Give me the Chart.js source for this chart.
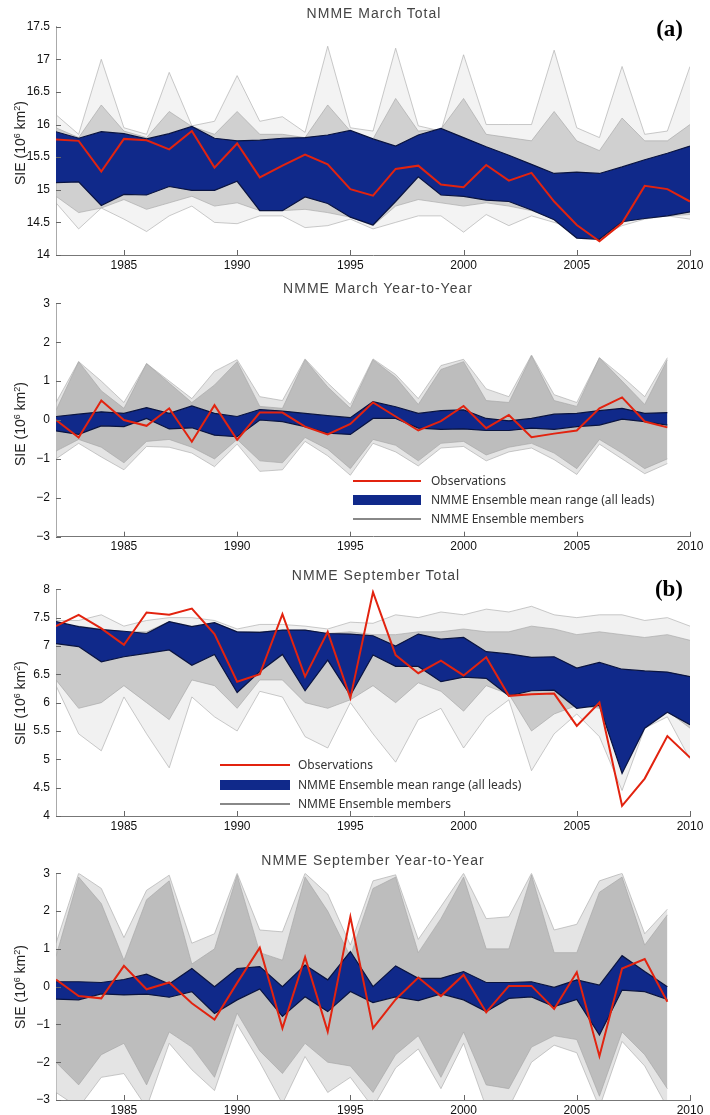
<!DOCTYPE html>
<html>
<head>
<meta charset="utf-8">
<script src="https://cdn.jsdelivr.net/npm/chart.js@4.4.1/dist/chart.umd.min.js"></script>
<style>
  body { margin: 0; background: #fff; }
  #wrap { position: relative; width: 710px; height: 1115px; overflow: hidden; background: #fff; }
  #wrap canvas { position: absolute; left: 0; }
  .title { position: absolute; font-family: "Liberation Sans", Arial, sans-serif; font-size: 14px; line-height: 16px;
           letter-spacing: 1px; color: #444; white-space: nowrap; transform: translateX(-50%); }
  .tag { position: absolute; font-family: "Liberation Serif", "Times New Roman", serif; font-weight: bold;
         font-size: 23px; line-height: 24px; color: #000; }
  .ytitle { position: absolute; font-family: "Liberation Sans", Arial, sans-serif; font-size: 14px; line-height: 16px;
            color: #222; white-space: nowrap; transform: translate(-50%, -50%) rotate(-90deg); }
  .ytitle sup { font-size: 9px; vertical-align: 5px; line-height: 0; }
  .leg { position: absolute; font-family: "Noto Sans", "Open Sans", sans-serif; font-size: 12px; line-height: 16px;
         color: #333; white-space: nowrap; }
  .sw { position: absolute; }
</style>
</head>
<body>
<div id="wrap">
  <canvas id="c1" width="710" height="280" style="top:0px"></canvas>
  <canvas id="c2" width="710" height="282" style="top:280px"></canvas>
  <canvas id="c3" width="710" height="280" style="top:562px"></canvas>
  <canvas id="c4" width="710" height="270" style="top:845px"></canvas>

  <div class="title" style="left:374px; top:5px">NMME March Total</div>
  <div class="title" style="left:378px; top:280px">NMME March Year-to-Year</div>
  <div class="title" style="left:376px; top:567px">NMME September Total</div>
  <div class="title" style="left:373px; top:852px">NMME September Year-to-Year</div>

  <div class="tag" style="right:27px; top:17px">(a)</div>
  <div class="tag" style="right:27px; top:577px">(b)</div>

  <div class="ytitle" style="left:20px; top:143px">SIE (10<sup>6</sup> km<sup>2</sup>)</div>
  <div class="ytitle" style="left:20px; top:424px">SIE (10<sup>6</sup> km<sup>2</sup>)</div>
  <div class="ytitle" style="left:20px; top:703px">SIE (10<sup>6</sup> km<sup>2</sup>)</div>
  <div class="ytitle" style="left:20px; top:987px">SIE (10<sup>6</sup> km<sup>2</sup>)</div>

  <!-- legend in panel 2 -->
  <div class="sw" style="left:353px; top:480px; width:68px; height:2px; background:#e2230f"></div>
  <div class="leg" style="left:431px; top:473px">Observations</div>
  <div class="sw" style="left:353px; top:495px; width:68px; height:10px; background:#10298a"></div>
  <div class="leg" style="left:431px; top:492px">NMME Ensemble mean range (all leads)</div>
  <div class="sw" style="left:353px; top:518px; width:68px; height:1.5px; background:#888"></div>
  <div class="leg" style="left:431px; top:511px">NMME Ensemble members</div>

  <!-- legend in panel 3 -->
  <div class="sw" style="left:220px; top:764px; width:70px; height:2px; background:#e2230f"></div>
  <div class="leg" style="left:298px; top:757px">Observations</div>
  <div class="sw" style="left:220px; top:780px; width:70px; height:10px; background:#10298a"></div>
  <div class="leg" style="left:298px; top:777px">NMME Ensemble mean range (all leads)</div>
  <div class="sw" style="left:220px; top:803px; width:70px; height:1.5px; background:#888"></div>
  <div class="leg" style="left:298px; top:796px">NMME Ensemble members</div>
</div>

<script>
// ---------------- categories / ticks ----------------
const yearsTotal = [1982,1983,1984,1985,1986,1987,1988,1989,1990,1991,1992,1993,1994,1995,1996,1997,1998,1999,2000,2001,2002,2003,2004,2005,2006,2007,2008,2009,2010];
const yearsYtY   = [1982,1983,1984,1985,1986,1987,1988,1989,1990,1991,1992,1993,1994,1995,1996,1997,1998,1999,2000,2001,2002,2003,2004,2005,2006,2007,2008,2009];
const xTicks = [1985,1990,1995,2000,2005,2010];
const marTotYTicks = [14,14.5,15,15.5,16,16.5,17,17.5];
const sepTotYTicks = [4,4.5,5,5.5,6,6.5,7,7.5,8];
const ytyYTicks = [-3,-2,-1,0,1,2,3];

// ---------------- (a) March total ----------------
const marTotObs    = [15.77,15.75,15.28,15.78,15.76,15.62,15.90,15.34,15.71,15.19,15.37,15.54,15.39,15.01,14.91,15.32,15.37,15.08,15.04,15.38,15.14,15.26,14.82,14.46,14.21,14.49,15.06,15.01,14.82];
const marTotBandHi = [15.89,15.79,15.89,15.86,15.78,15.86,15.97,15.79,15.75,15.76,15.79,15.80,15.84,15.91,15.78,15.67,15.84,15.94,15.80,15.66,15.53,15.39,15.25,15.27,15.25,15.35,15.46,15.56,15.67];
const marTotBandLo = [15.11,15.12,14.76,14.93,14.92,15.05,14.99,14.99,15.13,14.68,14.68,14.89,14.79,14.58,14.46,14.82,15.20,14.92,14.90,14.84,14.82,14.69,14.54,14.26,14.24,14.51,14.56,14.60,14.66];
const marTotEnsHi    = [16.15,15.85,17.00,15.95,15.85,16.80,15.98,16.05,16.75,16.05,16.12,15.88,17.20,15.95,15.90,17.17,15.98,15.90,17.07,16.00,16.00,16.00,17.14,15.95,15.80,16.89,15.85,15.90,16.89];
const marTotEnsMidHi = [15.95,15.80,16.30,15.90,15.80,16.20,15.97,15.85,16.20,15.85,15.85,15.80,16.30,15.90,15.78,16.40,15.90,15.93,16.40,15.85,15.80,15.75,16.20,15.75,15.60,16.10,15.75,15.75,16.00];
const marTotEnsMidLo = [14.90,14.65,14.72,14.85,14.70,14.80,14.90,14.75,14.80,14.68,14.68,14.70,14.65,14.58,14.45,14.75,14.85,14.80,14.75,14.80,14.75,14.68,14.55,14.30,14.28,14.50,14.58,14.60,14.62];
const marTotEnsLo    = [14.80,14.40,14.72,14.55,14.36,14.60,14.75,14.50,14.48,14.60,14.60,14.42,14.45,14.55,14.40,14.50,14.60,14.60,14.35,14.62,14.45,14.60,14.50,14.40,14.28,14.45,14.55,14.60,14.55];

// ---------------- (a) March year-to-year ----------------
const marYtyObs    = [0.00,-0.45,0.50,0.00,-0.15,0.30,-0.56,0.38,-0.51,0.19,0.19,-0.17,-0.37,-0.10,0.45,0.09,-0.27,-0.03,0.36,-0.21,0.13,-0.44,-0.35,-0.27,0.30,0.58,-0.04,-0.19];
const marYtyBandHi = [0.09,0.15,0.21,0.17,0.32,0.17,0.36,0.17,0.09,0.27,0.23,0.17,0.11,0.06,0.47,0.34,0.17,0.24,0.26,0.04,-0.02,0.04,0.15,0.17,0.24,0.30,0.17,0.19];
const marYtyBandLo = [-0.28,-0.37,-0.15,-0.17,0.04,-0.23,-0.20,-0.39,-0.43,0.00,-0.04,-0.17,-0.34,-0.37,0.04,0.04,-0.21,-0.24,-0.23,-0.27,-0.27,-0.21,-0.24,-0.17,-0.13,0.02,-0.04,-0.13];
const marYtyEnsHi    = [0.45,1.50,1.00,0.45,1.45,1.00,0.55,1.25,1.55,0.60,0.50,1.57,0.95,0.40,1.57,1.17,0.55,1.40,1.56,0.80,0.60,1.67,0.65,0.45,1.60,1.12,0.60,1.60];
const marYtyEnsMidHi = [0.25,1.50,0.75,0.30,1.45,0.95,0.45,0.90,1.50,0.35,0.30,1.55,0.85,0.30,1.55,1.10,0.40,1.30,1.50,0.50,0.45,1.65,0.50,0.35,1.60,1.00,0.40,1.55];
const marYtyEnsMidLo = [-0.80,-0.50,-0.70,-1.10,-0.55,-0.50,-0.70,-1.00,-0.50,-1.05,-1.10,-0.45,-0.75,-1.25,-0.50,-0.65,-1.05,-0.60,-0.55,-0.90,-0.70,-0.60,-0.85,-1.25,-0.50,-0.85,-1.25,-1.00];
const marYtyEnsLo    = [-1.00,-0.60,-0.95,-1.28,-0.68,-0.70,-0.85,-1.20,-0.62,-1.32,-1.28,-0.55,-0.92,-1.42,-0.60,-0.82,-1.18,-0.72,-0.68,-1.05,-0.82,-0.72,-1.02,-1.40,-0.62,-1.00,-1.38,-1.12];

// ---------------- (b) September total ----------------
const sepTotObs    = [7.35,7.55,7.31,7.02,7.59,7.55,7.66,7.21,6.37,6.50,7.56,6.46,7.25,6.08,7.95,6.84,6.52,6.74,6.48,6.80,6.12,6.15,6.16,5.59,6.00,4.18,4.66,5.41,5.03];
const sepTotBandHi = [7.43,7.34,7.29,7.26,7.22,7.43,7.34,7.41,7.25,7.24,7.28,7.28,7.22,7.21,7.18,7.00,7.21,7.12,7.15,6.90,6.86,6.80,6.81,6.61,6.71,6.59,6.56,6.54,6.46];
const sepTotBandLo = [7.04,6.99,6.72,6.81,6.87,6.93,6.66,6.85,6.18,6.55,6.85,6.21,6.75,6.13,6.84,6.64,6.64,6.37,6.45,6.43,6.12,6.21,6.22,5.90,5.95,4.75,5.55,5.83,5.61];
const sepTotEnsHi    = [7.45,7.45,7.55,7.35,7.45,7.50,7.50,7.45,7.30,7.38,7.38,7.35,7.30,7.42,7.40,7.55,7.50,7.60,7.55,7.65,7.60,7.70,7.55,7.50,7.55,7.55,7.45,7.50,7.35];
const sepTotEnsMidHi = [7.30,7.35,7.30,7.25,7.25,7.43,7.35,7.41,7.25,7.25,7.28,7.28,7.22,7.25,7.20,7.20,7.25,7.25,7.30,7.25,7.25,7.35,7.30,7.20,7.25,7.20,7.15,7.20,7.10];
const sepTotEnsMidLo = [6.40,5.90,6.00,6.30,6.00,5.70,6.40,6.30,5.90,6.40,6.40,6.00,5.90,6.05,6.30,6.00,6.35,6.20,5.85,6.30,6.15,5.50,5.80,5.95,5.90,5.20,5.70,5.85,5.55];
const sepTotEnsLo    = [6.30,5.45,5.15,6.10,5.45,4.85,6.10,5.75,5.50,6.20,6.10,5.40,5.20,6.00,5.45,4.95,5.70,5.90,5.20,5.75,6.05,4.80,5.45,5.80,5.40,4.45,5.55,5.75,5.00];

// ---------------- (b) September year-to-year ----------------
const sepYtyObs    = [0.19,-0.25,-0.31,0.55,-0.07,0.11,-0.44,-0.87,0.10,1.03,-1.10,0.78,-1.19,1.85,-1.10,-0.34,0.24,-0.25,0.31,-0.68,0.02,0.02,-0.59,0.38,-1.84,0.48,0.73,-0.40];
const sepYtyBandHi = [0.13,0.13,0.11,0.19,0.33,0.07,0.48,0.00,0.48,0.53,0.00,0.57,0.18,0.93,0.00,0.55,0.22,0.22,0.40,0.11,0.11,0.13,-0.02,0.18,0.04,0.82,0.40,0.00];
const sepYtyBandLo = [-0.33,-0.35,-0.19,-0.22,-0.20,-0.28,-0.13,-0.71,-0.35,-0.06,-0.79,-0.27,-0.66,-0.13,-0.42,-0.27,-0.37,-0.19,-0.35,-0.66,-0.31,-0.27,-0.53,-0.34,-1.28,-0.09,-0.13,-0.34];
const sepYtyEnsHi    = [1.15,3.00,2.60,1.30,2.55,2.95,1.15,1.40,3.00,1.50,1.45,3.00,2.45,1.10,2.80,2.96,1.25,2.12,3.00,1.80,1.85,3.00,1.50,1.65,2.80,3.00,1.40,2.05];
const sepYtyEnsMidHi = [0.80,2.90,2.20,0.70,2.30,2.80,0.60,1.00,2.95,0.90,0.70,2.90,2.00,0.80,2.60,2.90,0.90,1.80,2.90,1.00,1.00,2.95,0.90,0.90,2.50,2.90,1.10,1.90];
const sepYtyEnsMidLo = [-2.00,-2.60,-1.80,-1.50,-2.60,-1.20,-1.60,-2.40,-0.70,-1.70,-2.30,-1.50,-2.00,-2.10,-2.80,-1.80,-1.30,-2.40,-1.20,-2.60,-2.70,-1.60,-1.30,-1.40,-2.90,-1.20,-1.80,-2.70];
const sepYtyEnsLo    = [-2.80,-3.20,-2.40,-2.30,-3.20,-1.50,-2.20,-2.75,-1.00,-2.00,-3.10,-1.85,-2.80,-2.40,-3.20,-2.15,-1.65,-2.70,-1.50,-3.20,-3.20,-2.00,-1.55,-1.75,-3.20,-1.45,-2.10,-3.20];

// ---------------- drawing helpers ----------------
const innerTicks = {
  id: 'innerTicks',
  afterDraw(chart) {
    const { ctx, chartArea: a, scales: { x, y } } = chart;
    ctx.save();
    ctx.strokeStyle = '#666';
    ctx.lineWidth = 1;
    ctx.beginPath();
    x.ticks.forEach(t => {
      const px = Math.round(x.getPixelForValue(t.value)) + 0.5;
      ctx.moveTo(px, a.bottom); ctx.lineTo(px, a.bottom - 5);
    });
    y.ticks.forEach(t => {
      const py = Math.round(y.getPixelForValue(t.value)) + 0.5;
      ctx.moveTo(a.left, py); ctx.lineTo(a.left + 5, py);
    });
    ctx.stroke();
    ctx.restore();
  }
};

function fmt(v) { return v < 0 ? '\u2212' + Math.abs(v) : String(v); }

function panel(id, opt) {
  const pts = arr => arr.map((v, i) => ({ x: opt.xs[i], y: v }));
  const line = (arr, color, w, order, fill, bg) => ({
    data: pts(arr), borderColor: color, borderWidth: w, order: order,
    fill: fill || false, backgroundColor: bg || 'rgba(0,0,0,0)',
    pointRadius: 0, tension: 0
  });
  const datasets = [
    line(opt.ensHi,    'rgba(170,170,170,0.9)', 0.7, 4),
    line(opt.ensLo,    'rgba(170,170,170,0.9)', 0.7, 4, '-1', opt.outerFill),
    line(opt.ensMidHi, 'rgba(165,165,165,0.9)', 0.7, 3),
    line(opt.ensMidLo, 'rgba(165,165,165,0.9)', 0.7, 3, '-1', opt.denseFill),
    line(opt.bandHi,   '#0a1440', 1.2, 2),
    line(opt.bandLo,   '#0a1440', 1.2, 2, '-1', '#10298a'),
    line(opt.obs,      '#e2230f', 2, 1)
  ];
  const canvas = document.getElementById(id);
  const H = canvas.height;
  const xH = H - opt.areaBottom;
  new Chart(canvas, {
    type: 'line',
    data: { datasets },
    plugins: [innerTicks],
    options: {
      responsive: false, animation: false, devicePixelRatio: 1,
      layout: { padding: { top: opt.areaTop, right: 20, left: 0, bottom: 0 } },
      plugins: { legend: { display: false }, tooltip: { enabled: false }, title: { display: false } },
      scales: {
        x: {
          type: 'linear', min: 1982, max: 2010,
          afterBuildTicks: s => { s.ticks = xTicks.map(v => ({ value: v })); },
          afterFit: s => { s.height = xH; },
          grid: { display: true, drawOnChartArea: false, drawTicks: false },
          border: { display: true, color: '#777', dash: [1, 2], width: 1 },
          ticks: { padding: 3, maxRotation: 0, autoSkip: false, color: '#111',
                   font: { family: 'Liberation Sans, Arial, sans-serif', size: 12 },
                   callback: v => String(v) }
        },
        y: {
          type: 'linear', min: opt.yMin, max: opt.yMax,
          afterBuildTicks: s => { s.ticks = opt.yTicks.map(v => ({ value: v })); },
          afterFit: s => { s.width = 56; },
          grid: { display: true, drawOnChartArea: false, drawTicks: false },
          border: { display: true, color: '#aaa', width: 1 },
          ticks: { padding: 6, color: '#111',
                   font: { family: 'Liberation Sans, Arial, sans-serif', size: 12 },
                   callback: v => fmt(v) }
        }
      }
    }
  });
}

panel('c1', { xs: yearsTotal, obs: marTotObs, bandHi: marTotBandHi, bandLo: marTotBandLo,
  ensHi: marTotEnsHi, ensMidHi: marTotEnsMidHi, ensMidLo: marTotEnsMidLo, ensLo: marTotEnsLo,
  outerFill: 'rgba(200,200,200,0.22)', denseFill: 'rgba(185,185,185,0.6)',
  yMin: 14, yMax: 17.5, yTicks: marTotYTicks, areaTop: 26.7, areaBottom: 255 });

panel('c2', { xs: yearsYtY, obs: marYtyObs, bandHi: marYtyBandHi, bandLo: marYtyBandLo,
  ensHi: marYtyEnsHi, ensMidHi: marYtyEnsMidHi, ensMidLo: marYtyEnsMidLo, ensLo: marYtyEnsLo,
  outerFill: 'rgba(205,205,205,0.55)', denseFill: 'rgba(185,185,185,0.9)',
  yMin: -3, yMax: 3, yTicks: ytyYTicks, areaTop: 23.3, areaBottom: 256.7 });

panel('c3', { xs: yearsTotal, obs: sepTotObs, bandHi: sepTotBandHi, bandLo: sepTotBandLo,
  ensHi: sepTotEnsHi, ensMidHi: sepTotEnsMidHi, ensMidLo: sepTotEnsMidLo, ensLo: sepTotEnsLo,
  outerFill: 'rgba(200,200,200,0.25)', denseFill: 'rgba(185,185,185,0.7)',
  yMin: 4, yMax: 8, yTicks: sepTotYTicks, areaTop: 27.3, areaBottom: 254 });

panel('c4', { xs: yearsYtY, obs: sepYtyObs, bandHi: sepYtyBandHi, bandLo: sepYtyBandLo,
  ensHi: sepYtyEnsHi, ensMidHi: sepYtyEnsMidHi, ensMidLo: sepYtyEnsMidLo, ensLo: sepYtyEnsLo,
  outerFill: 'rgba(205,205,205,0.55)', denseFill: 'rgba(185,185,185,0.9)',
  yMin: -3, yMax: 3, yTicks: ytyYTicks, areaTop: 28.3, areaBottom: 255 });
</script>
</body>
</html>
